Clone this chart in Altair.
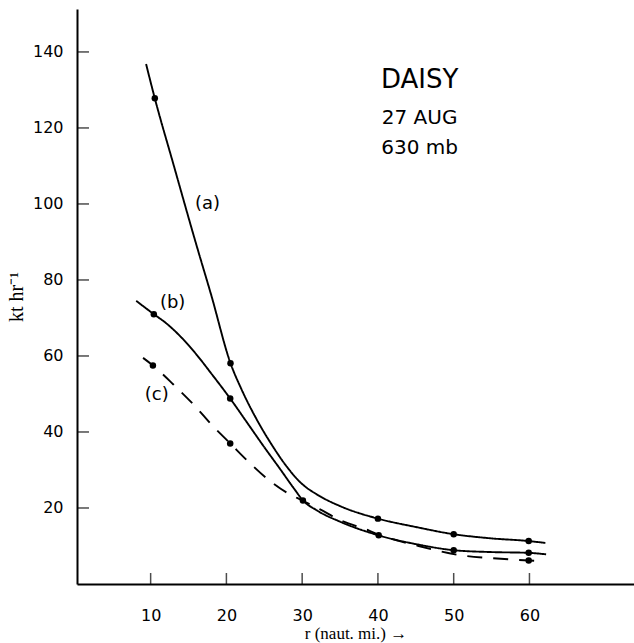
import altair as alt
import pandas as pd

# Radial profiles of the wind components, Hurricane Daisy, 27 Aug, 630 mb
# Hand-smoothed curves (r in nautical miles, speed in kt)
r_a = [9.4, 10.55, 13.0, 16.0, 18.0, 20.54, 22.0, 24.0, 26.0, 28.0, 30.0, 32.0, 35.0, 40.0, 45.0, 50.0, 55.0, 59.9, 62.1]
v_a = [136.8, 127.8, 110.5, 89.5, 76.0, 58.1, 51.2, 43.3, 36.6, 30.8, 26.3, 23.5, 20.5, 17.2, 15.0, 13.1, 12.0, 11.3, 10.8]

r_b = [8.1, 10.42, 12.0, 14.0, 16.0, 18.0, 20.5, 23.0, 25.0, 27.0, 29.0, 30.1, 32.0, 35.0, 40.1, 45.0, 50.0, 55.0, 59.9, 62.2]
v_b = [74.5, 71.0, 68.7, 65.0, 60.5, 55.4, 48.8, 41.7, 36.0, 30.5, 24.9, 22.0, 19.3, 16.4, 12.8, 10.5, 8.9, 8.4, 8.2, 7.8]

r_c = [9.0, 10.3, 13.0, 16.0, 18.0, 20.5, 23.0, 25.5, 28.0, 30.0, 32.3, 35.0, 38.9, 40.1, 45.0, 50.8, 55.0, 59.9, 62.0]
v_c = [59.5, 57.5, 52.5, 46.5, 42.0, 37.0, 32.0, 27.5, 24.0, 22.0, 19.7, 16.8, 14.0, 13.0, 10.2, 7.6, 6.8, 6.2, 6.0]

# Observed values (dots)
obs_r = [10.55, 20.54, 40.0, 50.0, 59.9,
         10.42, 20.5, 30.1, 40.1, 50.0, 59.9,
         10.3, 20.5, 59.9]
obs_v = [127.8, 58.1, 17.2, 13.1, 11.3,
         71.0, 48.8, 22.0, 12.8, 8.9, 8.2,
         57.5, 37.0, 6.2]

# Curve labels
lab_text = ["(a)", "(b)", "(c)"]
lab_r = [17.5, 12.9, 10.8]
lab_v = [100.0, 74.0, 49.7]

# Axis ticks
x_ticks = [10, 20, 30, 40, 50, 60]
y_ticks = [20, 40, 60, 80, 100, 120, 140]

X_DOMAIN = [0.28, 73.8]
Y_DOMAIN = [0, 151.3]

curves = pd.concat([
    pd.DataFrame({"r": r_a, "v": v_a, "series": "a"}),
    pd.DataFrame({"r": r_b, "v": v_b, "series": "b"}),
    pd.DataFrame({"r": r_c, "v": v_c, "series": "c"}),
])
obs = pd.DataFrame({"r": obs_r, "v": obs_v})
labels = pd.DataFrame({"r": lab_r, "v": lab_v, "t": lab_text})
xt = pd.DataFrame({"r": x_ticks})
yt = pd.DataFrame({"v": y_ticks})

xscale = alt.Scale(domain=X_DOMAIN, nice=False, zero=False)
yscale = alt.Scale(domain=Y_DOMAIN, nice=False, zero=False)

x_axis = alt.Axis(
    values=x_ticks, ticks=False, grid=False, labelPadding=23,
    labelFont="DejaVu Sans", labelFontSize=16, labelColor="black",
    domainColor="black", domainWidth=2,
    title="r (naut. mi.) →", titleFont="Liberation Serif", titleFontSize=17,
    titleFontWeight="normal", titleColor="black", titlePadding=2,
)
y_axis = alt.Axis(
    values=y_ticks, ticks=False, grid=False, labelPadding=14,
    labelFont="DejaVu Sans", labelFontSize=16, labelColor="black",
    domainColor="black", domainWidth=2,
    title="kt hr⁻¹", titleFont="Liberation Serif", titleFontSize=20,
    titleFontWeight="normal", titleColor="black", titlePadding=6,
)

lines = alt.Chart(curves).mark_line(
    interpolate="monotone", color="black", strokeWidth=1.9
).encode(
    x=alt.X("r:Q", scale=xscale, axis=x_axis),
    y=alt.Y("v:Q", scale=yscale, axis=y_axis),
    detail="series:N",
    strokeDash=alt.StrokeDash(
        "series:N",
        scale=alt.Scale(domain=["a", "b", "c"], range=[[1, 0], [1, 0], [15, 11]]),
        legend=None,
    ),
)

dots = alt.Chart(obs).mark_circle(size=42, color="black", opacity=1).encode(
    x=alt.X("r:Q", scale=xscale), y=alt.Y("v:Q", scale=yscale)
)

curve_labels = alt.Chart(labels).mark_text(
    font="DejaVu Sans", fontSize=18, color="black"
).encode(x=alt.X("r:Q", scale=xscale), y=alt.Y("v:Q", scale=yscale), text="t:N")

# inward-pointing ticks, clipped at the axis lines
x_tick_marks = alt.Chart(xt).mark_tick(
    orient="vertical", size=22, thickness=1.5, color="black", clip=True
).encode(x=alt.X("r:Q", scale=xscale), y=alt.datum(0))
y_tick_marks = alt.Chart(yt).mark_tick(
    orient="horizontal", size=24, thickness=1.5, color="black", clip=True
).encode(y=alt.Y("v:Q", scale=yscale), x=alt.datum(X_DOMAIN[0]))

title_1 = alt.Chart().mark_text(
    font="DejaVu Sans", fontSize=26, color="black", align="center"
).encode(x=alt.datum(45.5), y=alt.datum(132.5), text=alt.value("DAISY"))
title_2 = alt.Chart().mark_text(
    font="DejaVu Sans", fontSize=20, color="black", align="center"
).encode(x=alt.datum(45.5), y=alt.datum(122.5), text=alt.value("27 AUG"))
title_3 = alt.Chart().mark_text(
    font="DejaVu Sans", fontSize=20, color="black", align="center"
).encode(x=alt.datum(45.5), y=alt.datum(114.8), text=alt.value("630 mb"))

chart = alt.layer(
    lines, dots, curve_labels, x_tick_marks, y_tick_marks, title_1, title_2, title_3
).properties(
    width=557, height=575,
    padding={"left": 77, "top": 9, "right": 0, "bottom": 59},
    autosize=alt.AutoSizeParams(type="none"),
    background="white",
).configure_view(stroke=None)

chart.save("out.html", embed_options={"renderer": "svg", "actions": False})
